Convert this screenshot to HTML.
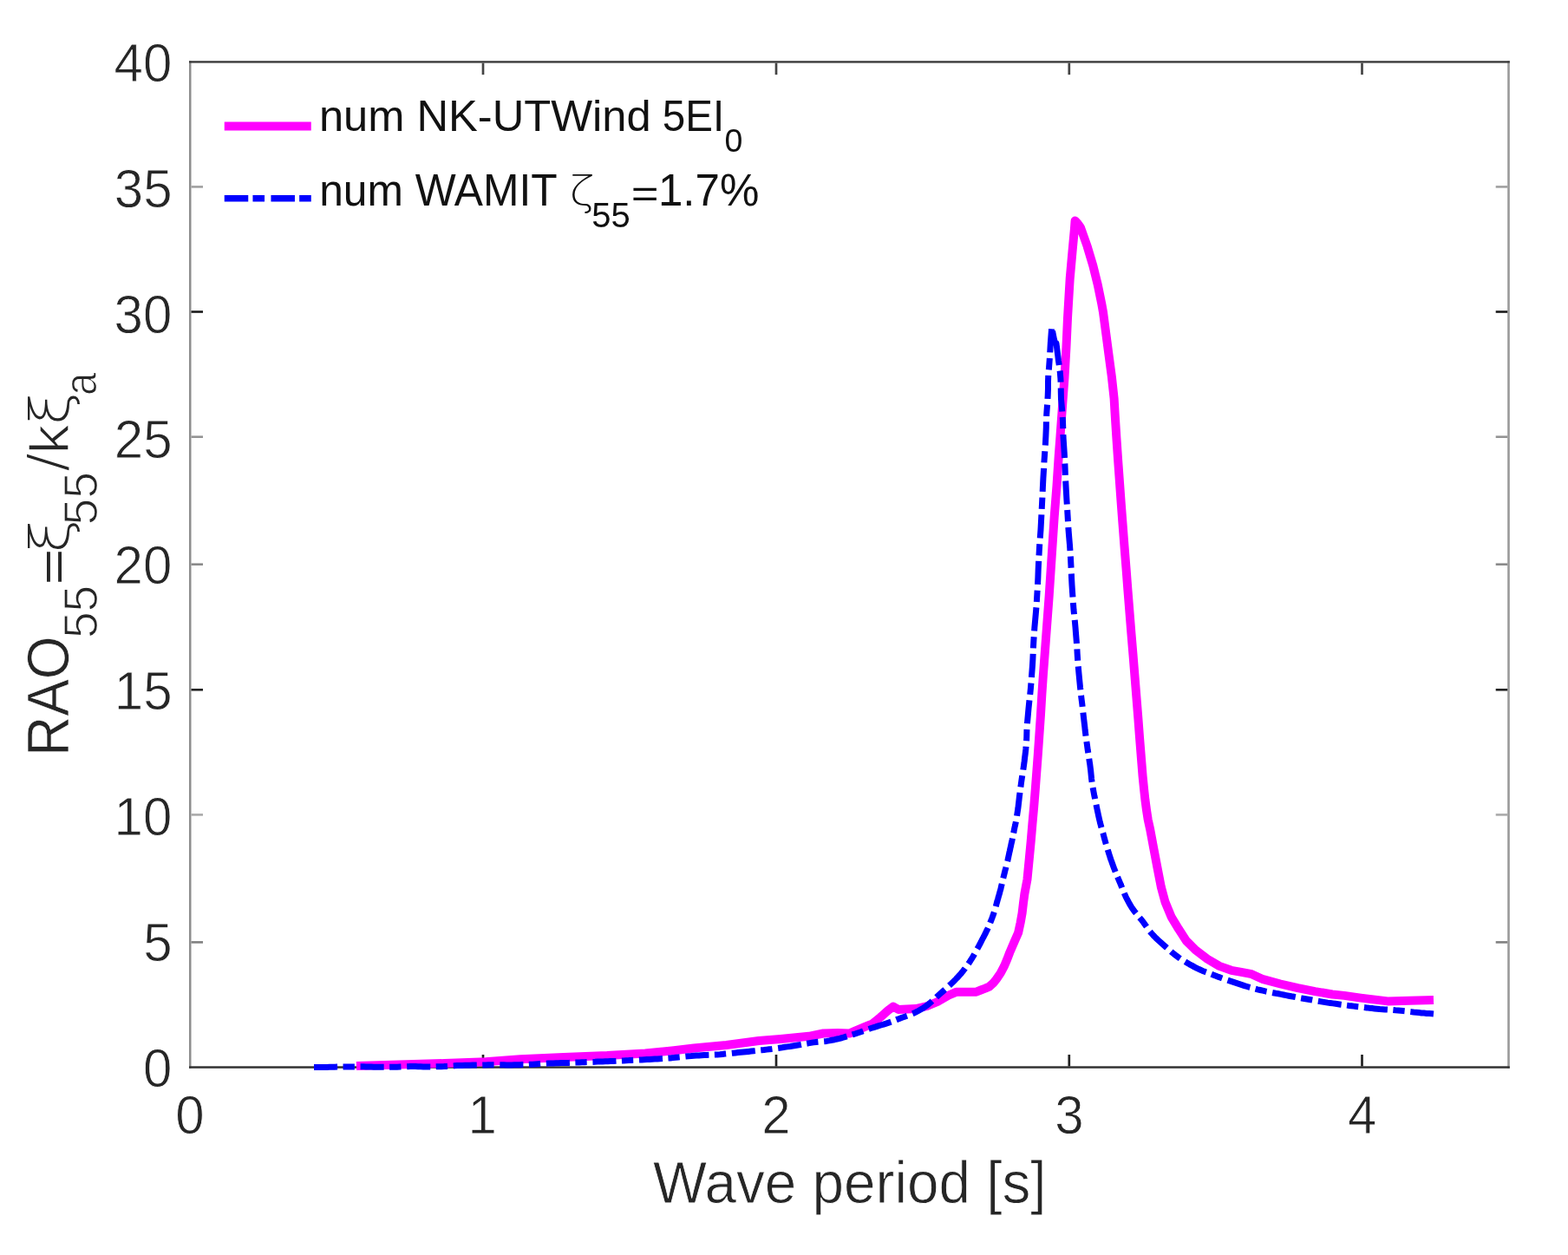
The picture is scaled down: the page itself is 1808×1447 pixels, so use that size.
<!DOCTYPE html>
<html><head><meta charset="utf-8"><title>RAO55 plot</title>
<style>html,body{margin:0;padding:0;background:#fff;overflow:hidden;} svg{display:block;}</style></head>
<body>
<svg width="1808" height="1447" viewBox="0 0 1808 1447" font-family="'Liberation Sans', Arial, Helvetica, sans-serif">
<rect x="0" y="0" width="1808" height="1447" fill="#fff"/>
<rect x="218" y="70.2" width="2.5" height="1161.6" fill="#8e8e8e"/>
<rect x="1738.2" y="70.2" width="2.6" height="1161.6" fill="#9a9a9a"/>
<rect x="218" y="70.2" width="1522.8" height="2.4" fill="#3c3c3c"/>
<rect x="218" y="1229.3" width="1522.8" height="2.5" fill="#333"/>
<rect x="220.5" y="1085.10" width="13.5" height="2.6" fill="#808080"/>
<rect x="1724.7" y="1085.10" width="13.5" height="2.6" fill="#808080"/>
<rect x="220.5" y="938.10" width="13.5" height="2.6" fill="#aaaaaa"/>
<rect x="1724.7" y="938.10" width="13.5" height="2.6" fill="#aaaaaa"/>
<rect x="220.5" y="794.00" width="13.5" height="2.6" fill="#222222"/>
<rect x="1724.7" y="794.00" width="13.5" height="2.6" fill="#222222"/>
<rect x="220.5" y="649.40" width="13.5" height="2.6" fill="#8a8a8a"/>
<rect x="1724.7" y="649.40" width="13.5" height="2.6" fill="#8a8a8a"/>
<rect x="220.5" y="502.40" width="13.5" height="2.6" fill="#949494"/>
<rect x="1724.7" y="502.40" width="13.5" height="2.6" fill="#949494"/>
<rect x="220.5" y="358.20" width="13.5" height="2.6" fill="#1a1a1a"/>
<rect x="1724.7" y="358.20" width="13.5" height="2.6" fill="#1a1a1a"/>
<rect x="220.5" y="214.10" width="13.5" height="2.6" fill="#a0a0a0"/>
<rect x="1724.7" y="214.10" width="13.5" height="2.6" fill="#a0a0a0"/>
<rect x="555.65" y="1216" width="2.7" height="13.5" fill="#222"/>
<rect x="555.65" y="72.6" width="2.7" height="13.5" fill="#444"/>
<rect x="893.65" y="1216" width="2.7" height="13.5" fill="#222"/>
<rect x="893.65" y="72.6" width="2.7" height="13.5" fill="#444"/>
<rect x="1231.45" y="1216" width="2.7" height="13.5" fill="#222"/>
<rect x="1231.45" y="72.6" width="2.7" height="13.5" fill="#444"/>
<rect x="1569.15" y="1216" width="2.7" height="13.5" fill="#222"/>
<rect x="1569.15" y="72.6" width="2.7" height="13.5" fill="#444"/>
<g fill="none" stroke-linejoin="round">
<polyline points="411.0,1229.0 460.0,1227.5 512.5,1226.0 560.0,1224.2 600.0,1221.2 650.0,1218.9 700.0,1217.1 744.0,1214.5 777.0,1211.2 800.0,1208.5 837.5,1205.0 875.0,1200.0 900.0,1198.0 932.7,1194.8 949.3,1191.5 966.0,1191.0 979.4,1191.6 986.7,1188.3 997.3,1183.9 1006.0,1180.4 1015.0,1173.0 1024.0,1165.0 1030.0,1160.5 1036.0,1164.0 1056.0,1163.0 1069.0,1160.0 1081.0,1155.0 1094.0,1147.5 1102.5,1143.8 1125.0,1143.8 1131.0,1141.5 1136.0,1139.6 1140.6,1137.6 1145.0,1133.8 1149.0,1128.8 1153.7,1122.0 1158.1,1113.6 1161.3,1106.0 1164.2,1098.4 1169.5,1086.0 1174.1,1075.6 1176.6,1064.0 1178.6,1052.8 1180.0,1041.0 1181.4,1030.5 1184.5,1013.8 1186.8,990.0 1188.7,970.0 1190.4,950.0 1192.2,930.0 1193.8,910.0 1195.3,890.0 1196.8,870.0 1198.2,850.0 1200.0,823.7 1201.4,800.0 1202.9,778.0 1206.3,732.4 1209.7,686.8 1212.7,641.2 1215.7,595.6 1218.5,560.0 1220.7,526.5 1222.5,503.0 1224.1,480.9 1227.5,435.2 1229.5,400.0 1231.0,366.8 1233.7,321.2 1236.5,290.0 1238.9,264.2 1239.6,254.5 1242.5,257.5 1245.9,262.1 1253.7,284.2 1260.3,306.3 1265.8,328.5 1270.3,350.6 1272.0,360.0 1275.3,384.9 1278.6,409.8 1281.9,434.6 1284.6,459.5 1285.8,480.0 1287.4,505.0 1289.1,530.0 1290.9,555.0 1292.7,580.0 1294.6,605.0 1296.5,630.0 1298.5,655.0 1300.4,680.0 1302.4,705.0 1304.4,730.0 1306.5,755.0 1308.5,780.0 1310.5,805.0 1312.5,830.0 1314.0,850.0 1315.2,865.0 1316.4,880.0 1317.6,895.0 1319.1,910.0 1320.4,922.0 1322.0,934.0 1323.7,945.0 1326.2,956.3 1330.3,978.4 1334.5,1000.5 1338.8,1022.6 1343.5,1040.0 1350.7,1057.3 1359.0,1071.1 1368.0,1084.9 1378.4,1095.3 1392.2,1105.7 1406.0,1113.9 1419.8,1118.8 1430.0,1120.7 1443.3,1123.2 1456.5,1129.2 1476.5,1134.5 1496.4,1139.2 1516.3,1143.1 1536.2,1146.5 1550.0,1147.9 1569.0,1150.6 1600.0,1154.4 1625.0,1153.8 1653.0,1153.0" stroke="#ff00ff" stroke-width="10"/>
<polyline points="362.0,1230.5 365.0,1230.5 368.0,1230.5 371.0,1230.5 374.0,1230.4 377.0,1230.4 380.0,1230.3 383.0,1230.2 386.0,1230.2 389.0,1230.1 392.0,1230.0 395.0,1230.0 398.0,1230.0 401.0,1229.9 404.0,1229.9 407.0,1229.9 410.0,1229.9 413.0,1229.8 416.0,1229.8 419.0,1229.8 422.0,1229.9 425.0,1229.9 428.0,1230.0 431.0,1230.2 434.0,1230.2 437.0,1230.3 440.0,1230.3 443.0,1230.3 446.0,1230.3 449.0,1230.3 452.0,1230.3 455.0,1230.2 458.0,1230.2 461.0,1230.1 464.0,1230.0 467.0,1229.9 470.0,1229.7 473.0,1229.6 476.0,1229.6 479.0,1229.6 482.0,1229.8 485.0,1229.8 488.0,1229.9 491.0,1229.9 494.0,1229.9 497.0,1229.9 500.0,1229.9 503.0,1229.8 506.0,1229.7 509.0,1229.7 512.0,1229.6 515.0,1229.4 518.0,1229.2 521.0,1229.0 524.0,1228.8 527.0,1228.6 530.0,1228.5 533.0,1228.4 536.0,1228.3 539.0,1228.3 542.0,1228.2 545.0,1228.1 548.0,1228.1 551.0,1228.0 554.0,1228.0 557.0,1227.9 560.0,1227.9 563.0,1227.8 566.0,1227.8 569.0,1227.7 572.0,1227.7 575.0,1227.7 578.0,1227.8 581.0,1227.8 584.0,1227.9 587.0,1227.9 590.0,1227.9 593.0,1227.8 596.0,1227.8 599.0,1227.7 602.0,1227.6 605.0,1227.6 608.0,1227.5 611.0,1227.3 614.0,1227.2 617.0,1227.0 620.0,1226.8 623.0,1226.6 626.0,1226.4 629.0,1226.3 632.0,1226.1 635.0,1226.0 638.0,1225.9 641.0,1225.8 644.0,1225.7 647.0,1225.6 650.0,1225.5 653.0,1225.4 656.0,1225.4 659.0,1225.3 662.0,1225.1 665.0,1225.0 668.0,1224.9 671.0,1224.8 674.0,1224.7 677.0,1224.6 680.0,1224.5 683.0,1224.4 686.0,1224.3 689.0,1224.1 692.0,1224.0 695.0,1223.9 698.0,1223.8 701.0,1223.7 704.0,1223.5 707.0,1223.4 710.0,1223.3 713.0,1223.1 716.0,1223.0 719.0,1222.9 722.0,1222.7 725.0,1222.6 728.0,1222.4 731.0,1222.3 734.0,1222.2 737.0,1222.0 740.0,1221.9 743.0,1221.7 746.0,1221.5 749.0,1221.4 752.0,1221.2 755.0,1221.0 758.0,1220.9 761.0,1220.7 764.0,1220.5 767.0,1220.3 770.0,1220.1 773.0,1219.9 776.0,1219.6 779.0,1219.2 782.0,1218.9 785.0,1218.6 788.0,1218.3 790.9,1218.0 793.9,1217.8 796.9,1217.6 799.9,1217.3 802.9,1217.1 805.9,1216.9 808.9,1216.7 811.9,1216.5 814.9,1216.4 818.0,1216.3 821.0,1216.2 824.0,1216.1 827.0,1215.9 830.0,1215.7 833.0,1215.4 836.0,1215.1 839.0,1214.8 842.0,1214.5 845.0,1214.2 848.0,1213.9 851.0,1213.6 854.0,1213.3 857.0,1213.0 860.0,1212.7 863.0,1212.4 866.0,1212.1 869.0,1211.8 872.0,1211.5 875.0,1211.1 878.0,1210.8 881.0,1210.5 884.0,1210.1 887.0,1209.7 890.0,1209.4 893.0,1209.0 896.0,1208.6 899.0,1208.2 902.0,1207.8 905.0,1207.3 908.0,1206.9 911.0,1206.5 914.0,1206.0 916.9,1205.5 919.9,1205.0 922.9,1204.5 925.9,1203.9 928.9,1203.4 931.9,1202.9 934.9,1202.4 937.9,1201.9 940.9,1201.5 944.0,1201.2 947.0,1201.0 950.1,1200.7 953.2,1200.4 956.2,1199.9 959.2,1199.3 962.2,1198.7 965.2,1198.0 968.2,1197.3 971.2,1196.5 974.2,1195.6 977.1,1194.7 980.1,1193.8 983.0,1192.9 986.0,1192.0 988.9,1191.0 991.9,1190.0 994.8,1188.9 997.8,1187.8 1000.7,1186.8 1003.7,1185.8 1006.7,1184.8 1009.7,1183.9 1012.7,1182.9 1015.7,1182.0 1018.8,1181.1 1021.8,1180.1 1024.8,1179.1 1027.9,1178.0 1030.9,1176.8 1033.9,1175.6 1037.0,1174.5 1040.1,1173.3 1043.2,1172.2 1046.4,1171.1 1049.5,1169.9 1052.7,1168.6 1055.8,1167.1 1058.9,1165.5 1061.9,1163.8 1065.0,1161.9 1067.9,1159.9 1070.8,1157.7 1073.6,1155.3 1076.3,1152.8 1079.1,1150.3 1081.9,1147.7 1084.8,1145.1 1087.8,1142.5 1090.8,1139.9 1093.8,1137.1 1096.8,1134.2 1099.9,1131.2 1100.4,1130.7 1100.9,1130.2 1101.5,1129.6 1102.0,1129.1 1102.5,1128.6 1103.0,1128.0 1103.5,1127.5 1104.1,1127.0 1104.6,1126.4 1105.1,1125.8 1105.6,1125.3 1106.1,1124.7 1106.6,1124.1 1107.2,1123.5 1107.7,1123.0 1108.2,1122.4 1108.7,1121.8 1109.2,1121.1 1109.7,1120.5 1110.2,1119.9 1110.7,1119.3 1111.2,1118.6 1111.7,1118.0 1112.2,1117.3 1112.7,1116.7 1113.2,1116.0 1113.7,1115.3 1114.2,1114.6 1114.7,1114.0 1115.2,1113.3 1115.7,1112.6 1116.2,1111.8 1116.7,1111.1 1117.2,1110.4 1117.7,1109.7 1118.2,1108.9 1118.7,1108.2 1119.1,1107.4 1119.6,1106.7 1120.1,1105.9 1120.6,1105.1 1121.1,1104.3 1121.6,1103.5 1122.1,1102.7 1122.6,1101.9 1123.0,1101.1 1123.5,1100.3 1124.0,1099.4 1124.5,1098.6 1124.9,1097.7 1125.4,1096.8 1125.9,1096.0 1126.4,1095.1 1126.8,1094.2 1127.3,1093.3 1127.8,1092.4 1128.3,1091.4 1128.8,1090.5 1129.3,1089.6 1129.8,1088.6 1130.3,1087.7 1130.8,1086.7 1131.3,1085.8 1131.8,1084.8 1132.3,1083.8 1132.8,1082.8 1133.3,1081.8 1133.9,1080.8 1134.4,1079.7 1134.9,1078.7 1135.5,1077.6 1136.0,1076.6 1136.6,1075.5 1137.1,1074.4 1137.6,1073.3 1138.2,1072.2 1138.7,1071.1 1139.2,1069.9 1139.8,1068.7 1140.3,1067.5 1140.8,1066.3 1141.3,1065.1 1141.8,1063.9 1142.3,1062.6 1142.8,1061.4 1143.3,1060.1 1143.8,1058.8 1144.3,1057.4 1144.8,1056.1 1145.3,1054.7 1145.7,1053.4 1146.2,1052.0 1146.7,1050.5 1147.1,1049.1 1147.5,1047.6 1148.0,1046.1 1148.4,1044.6 1148.8,1043.1 1149.2,1041.5 1149.7,1039.9 1150.1,1038.3 1150.6,1036.7 1151.0,1035.1 1151.5,1033.5 1152.0,1031.8 1152.5,1030.1 1152.9,1028.4 1153.4,1026.6 1153.9,1024.9 1154.3,1023.1 1154.7,1021.2 1155.2,1019.4 1155.6,1017.5 1156.1,1015.6 1156.5,1013.6 1157.0,1011.7 1157.5,1009.7 1158.0,1007.7 1158.5,1005.6 1159.0,1003.5 1159.6,1001.4 1160.1,999.3 1160.7,997.1 1161.2,994.9 1161.8,992.6 1162.3,990.3 1162.8,988.0 1163.3,985.6 1163.8,983.2 1164.4,980.8 1164.9,978.3 1165.5,975.8 1166.0,973.2 1166.6,970.6 1167.2,967.9 1167.7,965.2 1168.3,962.4 1168.9,959.6 1169.4,956.7 1170.0,953.8 1170.7,950.9 1171.3,947.8 1171.9,944.7 1172.4,941.6 1172.9,938.4 1173.4,935.1 1173.9,931.8 1174.3,928.4 1174.7,924.9 1175.1,921.3 1175.5,917.7 1176.0,914.0 1176.5,910.3 1177.0,906.5 1177.5,902.6 1178.1,898.6 1178.7,894.6 1179.4,890.4 1180.0,886.2 1180.6,881.9 1181.2,877.5 1181.7,873.0 1182.3,868.5 1182.8,863.8 1183.2,859.0 1183.6,854.1 1183.8,849.1 1183.9,843.9 1184.1,838.7 1184.5,833.4 1185.0,827.9 1185.5,822.4 1186.0,816.7 1186.6,810.9 1187.2,805.0 1187.9,799.0 1188.5,792.8 1189.0,786.5 1189.5,780.1 1190.0,773.5 1190.5,766.7 1190.9,759.9 1191.2,752.8 1191.5,745.6 1191.9,738.3 1192.4,730.9 1192.9,723.2 1193.6,715.5 1194.3,707.6 1195.0,699.5 1195.5,691.2 1196.0,682.8 1196.5,674.3 1196.9,665.6 1197.2,656.7 1197.6,647.8 1198.1,638.6 1198.6,629.4 1199.3,620.0 1200.0,610.5 1200.5,600.9 1201.0,591.2 1201.5,581.4 1202.0,571.6 1202.4,561.7 1202.9,551.7 1203.5,541.8 1204.0,531.9 1204.7,522.0 1205.4,512.2 1205.9,502.4 1206.3,492.8 1206.4,483.3 1207.0,474.0 1207.7,465.0 1208.2,456.2 1208.5,447.8 1208.5,439.6 1208.8,431.9 1209.5,424.6 1210.4,412.4 1211.3,396.0 1212.7,377.3 1215.4,391.0 1217.5,399.0 1217.9,395.5 1218.5,399.8 1219.1,404.7 1219.8,410.1 1220.5,416.0 1221.5,422.4 1222.3,429.2 1222.9,436.5 1223.2,444.0 1223.3,451.9 1223.5,460.1 1224.3,468.5 1225.0,477.0 1225.5,485.7 1225.8,494.6 1226.0,503.6 1226.6,512.6 1227.2,521.7 1227.7,530.7 1228.1,539.8 1228.4,548.9 1228.9,558.0 1229.4,566.9 1229.9,575.9 1230.5,584.7 1231.0,593.4 1231.5,602.1 1232.0,610.6 1232.7,619.1 1233.4,627.3 1234.0,635.5 1234.5,643.6 1234.9,651.5 1235.3,659.3 1235.6,667.0 1236.0,674.5 1236.5,681.9 1237.0,689.1 1237.5,696.2 1238.0,703.2 1238.7,710.0 1239.4,716.7 1240.0,723.2 1240.5,729.7 1241.0,736.0 1241.5,742.1 1241.9,748.2 1242.2,754.1 1242.6,760.0 1243.0,765.6 1243.5,771.2 1244.0,776.7 1244.5,782.0 1245.0,787.2 1245.5,792.4 1246.1,797.4 1246.6,802.3 1247.2,807.1 1247.8,811.8 1248.3,816.4 1248.8,820.9 1249.3,825.4 1249.8,829.7 1250.3,834.0 1250.8,838.2 1251.2,842.3 1251.7,846.3 1252.2,850.2 1252.7,854.1 1253.3,857.8 1253.8,861.5 1254.3,865.2 1254.9,868.7 1255.4,872.2 1255.9,875.7 1256.4,879.0 1256.9,882.3 1257.3,885.6 1257.7,888.8 1258.0,892.0 1258.3,895.1 1258.6,898.1 1259.0,901.1 1259.4,904.0 1259.9,906.9 1260.4,909.7 1260.9,912.5 1261.4,915.2 1261.9,917.8 1262.5,920.4 1263.0,923.0 1263.5,925.5 1264.0,928.0 1264.5,930.5 1265.0,932.9 1265.5,935.3 1266.0,937.6 1266.5,939.9 1267.0,942.1 1267.5,944.4 1268.0,946.5 1268.5,948.7 1269.1,950.8 1269.6,952.8 1270.2,954.9 1270.8,956.9 1271.3,958.8 1271.9,960.8 1272.4,962.7 1272.9,964.6 1273.4,966.5 1273.9,968.3 1274.4,970.1 1274.9,971.9 1275.4,973.6 1276.0,975.4 1276.5,977.1 1277.0,978.7 1277.5,980.4 1278.0,982.0 1278.5,983.6 1279.0,985.2 1279.5,986.8 1280.0,988.3 1280.5,989.9 1281.0,991.4 1281.6,992.8 1282.1,994.3 1282.6,995.7 1283.1,997.2 1283.6,998.6 1284.1,999.9 1284.6,1001.3 1285.2,1002.6 1285.7,1004.0 1286.2,1005.3 1286.7,1006.6 1287.2,1007.8 1287.8,1009.1 1288.3,1010.4 1288.8,1011.6 1289.3,1012.8 1289.8,1014.0 1290.3,1015.2 1290.8,1016.4 1291.3,1017.5 1291.8,1018.7 1292.3,1019.8 1292.7,1020.9 1293.2,1022.1 1293.7,1023.2 1294.1,1024.3 1294.6,1025.4 1295.0,1026.4 1295.4,1027.5 1295.9,1028.6 1296.3,1029.6 1296.7,1030.7 1297.2,1031.7 1297.6,1032.7 1298.0,1033.7 1298.5,1034.7 1299.0,1035.7 1299.5,1036.7 1302.4,1042.1 1305.5,1047.2 1308.9,1051.8 1312.3,1055.9 1315.7,1059.9 1318.8,1063.9 1321.5,1067.8 1324.2,1071.7 1327.0,1075.2 1329.9,1078.5 1332.9,1081.6 1336.0,1084.5 1339.0,1087.2 1342.0,1089.9 1345.0,1092.5 1347.9,1095.0 1350.7,1097.5 1353.6,1099.9 1356.6,1102.2 1359.5,1104.3 1362.5,1106.3 1365.5,1108.2 1368.5,1110.0 1371.6,1111.8 1374.6,1113.4 1377.6,1115.1 1380.6,1116.6 1383.7,1118.0 1386.7,1119.4 1389.8,1120.6 1392.9,1121.7 1396.0,1122.9 1399.0,1124.1 1402.1,1125.2 1405.1,1126.4 1408.1,1127.5 1411.1,1128.6 1414.1,1129.6 1417.1,1130.6 1420.1,1131.6 1423.1,1132.6 1426.1,1133.6 1429.1,1134.6 1432.1,1135.6 1435.0,1136.6 1438.0,1137.5 1441.0,1138.4 1444.0,1139.2 1447.0,1140.0 1450.0,1140.8 1453.0,1141.5 1456.0,1142.2 1459.0,1142.9 1462.0,1143.5 1465.1,1144.1 1468.1,1144.7 1471.1,1145.3 1474.1,1145.8 1477.1,1146.4 1480.1,1147.0 1483.1,1147.6 1486.1,1148.2 1489.1,1148.8 1492.1,1149.3 1495.1,1149.9 1498.1,1150.5 1501.1,1151.0 1504.1,1151.5 1507.1,1152.0 1510.1,1152.5 1513.1,1153.0 1516.1,1153.6 1519.0,1154.1 1522.0,1154.6 1525.0,1155.1 1528.0,1155.6 1531.0,1156.1 1534.0,1156.5 1537.0,1156.9 1540.0,1157.3 1543.0,1157.7 1546.0,1158.2 1549.0,1158.6 1552.0,1159.0 1555.0,1159.4 1558.0,1159.7 1561.0,1160.1 1564.0,1160.5 1567.0,1160.8 1570.0,1161.2 1573.0,1161.6 1576.0,1161.9 1579.0,1162.3 1582.0,1162.6 1585.0,1162.9 1588.0,1163.2 1591.0,1163.5 1594.0,1163.7 1597.0,1163.9 1600.0,1164.1 1603.0,1164.3 1606.0,1164.5 1609.0,1164.8 1612.0,1165.0 1615.0,1165.3 1618.0,1165.6 1621.0,1165.9 1624.0,1166.3 1627.0,1166.6 1630.0,1167.0 1633.0,1167.3 1636.0,1167.6 1639.0,1167.9 1642.0,1168.1 1645.0,1168.4 1648.0,1168.6 1651.0,1168.8 1653.0,1169.0" stroke="#0000ff" stroke-width="7" stroke-dasharray="27.1 6.45 13.3 6.75" />
</g>
<text transform="translate(164.97,1252.95) scale(1.0000,1.0400)" font-size="60" fill="#262626" stroke="#fff" stroke-width="0.8">0</text>
<text transform="translate(165.15,1108.05) scale(1.0000,1.0400)" font-size="60" fill="#262626" stroke="#fff" stroke-width="0.8">5</text>
<text transform="translate(131.61,963.15) scale(1.0000,1.0400)" font-size="60" fill="#262626" stroke="#fff" stroke-width="0.8">10</text>
<text transform="translate(131.78,818.25) scale(1.0000,1.0400)" font-size="60" fill="#262626" stroke="#fff" stroke-width="0.8">15</text>
<text transform="translate(131.61,673.35) scale(1.0000,1.0400)" font-size="60" fill="#262626" stroke="#fff" stroke-width="0.8">20</text>
<text transform="translate(131.78,528.45) scale(1.0000,1.0400)" font-size="60" fill="#262626" stroke="#fff" stroke-width="0.8">25</text>
<text transform="translate(131.61,383.55) scale(1.0000,1.0400)" font-size="60" fill="#262626" stroke="#fff" stroke-width="0.8">30</text>
<text transform="translate(131.78,238.65) scale(1.0000,1.0400)" font-size="60" fill="#262626" stroke="#fff" stroke-width="0.8">35</text>
<text transform="translate(131.61,93.75) scale(1.0000,1.0400)" font-size="60" fill="#262626" stroke="#fff" stroke-width="0.8">40</text>
<text transform="translate(202.32,1306.90) scale(1.0000,1.0400)" font-size="60" fill="#262626" stroke="#fff" stroke-width="0.8">0</text>
<text transform="translate(539.50,1306.90) scale(1.0000,1.0400)" font-size="60" fill="#262626" stroke="#fff" stroke-width="0.8">1</text>
<text transform="translate(878.32,1306.90) scale(1.0000,1.0400)" font-size="60" fill="#262626" stroke="#fff" stroke-width="0.8">2</text>
<text transform="translate(1216.29,1306.90) scale(1.0000,1.0400)" font-size="60" fill="#262626" stroke="#fff" stroke-width="0.8">3</text>
<text transform="translate(1554.01,1306.90) scale(1.0000,1.0400)" font-size="60" fill="#262626" stroke="#fff" stroke-width="0.8">4</text>
<text transform="translate(752.91,1386.70) scale(0.9950,1.0400)" font-size="66" fill="#262626" stroke="#fff" stroke-width="0.8">Wave period [s]</text>
<text transform="translate(79.10,872.05) rotate(-90) scale(0.9950,1.0700)" font-size="64.3" fill="#262626" stroke="#fff" stroke-width="0.6">RAO</text>
<text transform="translate(111.50,736.11) rotate(-90) scale(1.0000,1.0000)" font-size="55.2" fill="#262626" stroke="#fff" stroke-width="1.3">55</text>
<text transform="translate(79.95,674.37) rotate(-90) scale(1.1100,0.8500)" font-size="64" fill="#262626">=</text>
<text transform="translate(79.00,638.07) rotate(-90) scale(1.1800,1.0000)" font-size="61.6" fill="#262626" font-family="'DejaVu Sans', 'Liberation Sans', sans-serif" font-weight="200">ξ</text>
<text transform="translate(111.50,605.41) rotate(-90) scale(1.0000,1.0000)" font-size="55.2" fill="#262626" stroke="#fff" stroke-width="1.3">55</text>
<text transform="translate(79.70,544.00) rotate(-90) scale(1.2000,1.0300)" font-size="66" fill="#262626" stroke="#fff" stroke-width="2.0">/</text>
<text transform="translate(78.60,523.43) rotate(-90) scale(1.0400,0.9650)" font-size="66" fill="#262626" stroke="#fff" stroke-width="1.4">k</text>
<text transform="translate(79.00,490.20) rotate(-90) scale(1.1400,1.0000)" font-size="61.6" fill="#262626" font-family="'DejaVu Sans', 'Liberation Sans', sans-serif" font-weight="200">ξ</text>
<text transform="translate(111.40,456.12) rotate(-90) scale(0.8700,0.9700)" font-size="54.7" fill="#262626" stroke="#fff" stroke-width="1.3">a</text>
<line x1="258.75" y1="145.6" x2="358.75" y2="145.6" stroke="#ff00ff" stroke-width="10"/>
<line x1="258.75" y1="228.75" x2="358.75" y2="228.75" stroke="#0000ff" stroke-width="7.5" stroke-dasharray="27.5 5.2 13.6 7.4"/>
<text transform="translate(367.89,150.60) scale(1.0130,1.0100)" font-size="50" fill="#111">num NK-UTWind</text>
<text transform="translate(763.80,150.60) scale(0.9510,1.0100)" font-size="50" fill="#111">5EI</text>
<text transform="translate(835.44,175.30) scale(1.0000,1.0000)" font-size="37.5" fill="#111">0</text>
<text transform="translate(368.20,236.50) scale(0.9950,1.0400)" font-size="50" fill="#111">num WAMIT</text>
<text transform="translate(656.62,236.10) scale(1.1300,1.0000)" font-size="47.0" fill="#111" font-family="'DejaVu Sans', 'Liberation Sans', sans-serif" font-weight="200">ζ</text>
<text transform="translate(682.20,261.90) scale(1.0000,1.0200)" font-size="40" fill="#111">55</text>
<text transform="translate(727.64,239.00) scale(1.0900,0.9000)" font-size="50" fill="#111">=</text>
<text transform="translate(758.91,236.50) scale(1.0220,1.0440)" font-size="50" fill="#111">1.7%</text>
</svg></body></html>
